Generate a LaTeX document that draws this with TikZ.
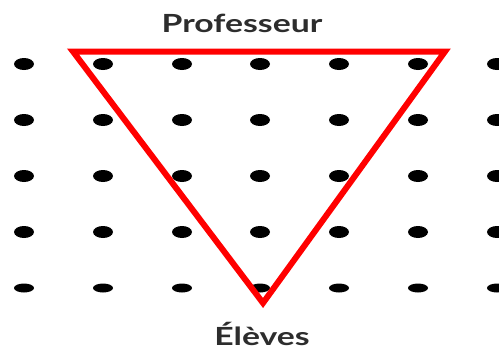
\documentclass[tikz,border=0pt]{standalone}
\usepackage{fontspec}
\setmainfont{Lato}
\usepackage{tikz}
\usetikzlibrary{positioning}
\definecolor{TriRed}{RGB}{255,0,0}
\definecolor{LabelGray}{RGB}{45,45,45}
\tikzset{
  griddot/.style={fill=black, draw=none},
  triside/.style={draw=TriRed, line width=6pt, line join=miter},
  rolelabel/.style={text=LabelGray, font=\fontsize{25}{28}\selectfont\bfseries, inner sep=0pt, xscale=1.35}
}

\begin{document}
\begin{tikzpicture}[x=1pt,y=-1pt]
  \useasboundingbox (0,0) rectangle (499,351);
  \clip (0,0) rectangle (499,351);
  % grid of dots
  \foreach \row/\ry in {64/6,120/6,176/6,232/6,288/4.5}{
    \foreach \col in {24,103,182,260,339,418,497}{
      \fill[griddot] (\col,\row) ellipse [x radius=10, y radius=\ry];
    }
  }
  % triangle
  \coordinate (profleft) at (73,51.5);
  \coordinate (profright) at (445,51.5);
  \coordinate (eleves) at (263,303);
  \draw[triside] (profleft) -- (profright) -- (eleves) -- cycle;
  % labels
  \node[rolelabel, anchor=base] (prof) at (242,32) {Professeur};
  \node[rolelabel, anchor=base] (elev) at (262,345) {Élèves};
\end{tikzpicture}
\end{document}
